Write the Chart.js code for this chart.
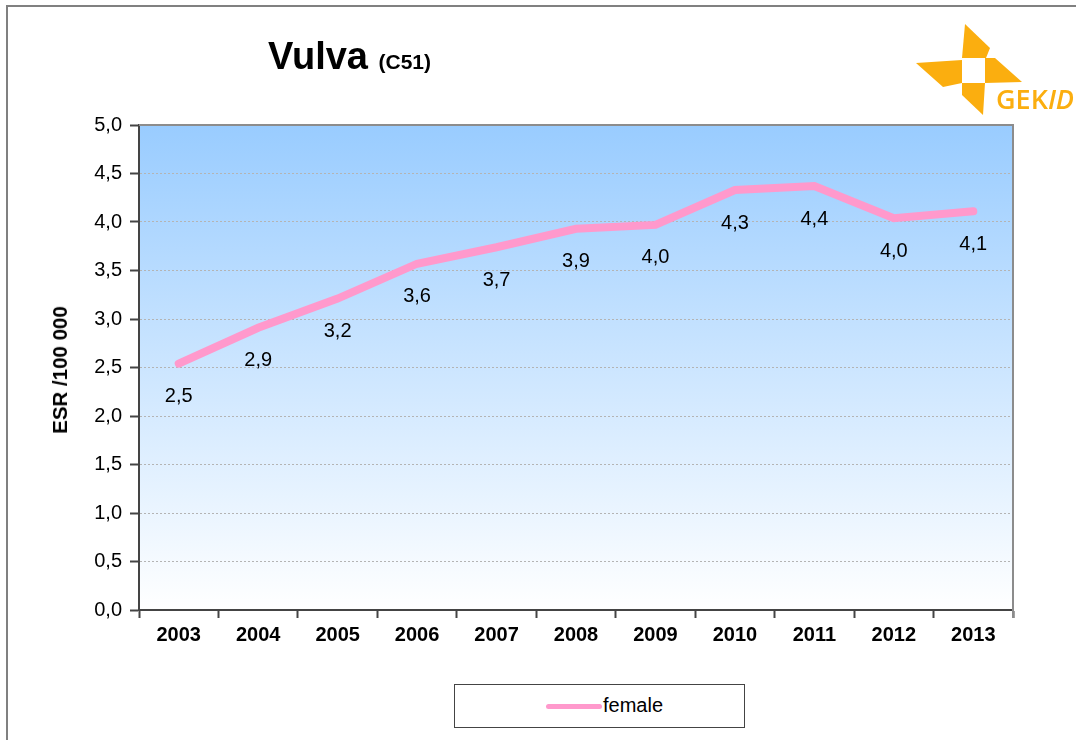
<!DOCTYPE html>
<html>
<head>
<meta charset="utf-8">
<script src="https://cdn.jsdelivr.net/npm/chart.js@4"></script>
<style>
  html, body { margin: 0; padding: 0; background: #fff; }
  body { width: 1076px; height: 740px; position: relative; overflow: hidden; font-family: "Liberation Sans", Arial, sans-serif; }
  #frame { position: absolute; left: 6px; top: 5px; width: 1080px; height: 760px; border-left: 2px solid #808080; border-top: 2px solid #808080; }
  #chart { position: absolute; left: 0; top: 0; }
  #title { position: absolute; left: 268px; top: 35px; font-weight: bold; font-size: 38px; color: #000; white-space: nowrap; }
  #title small { font-size: 21px; }
  #ytitle { position: absolute; left: 60px; top: 370px; transform: translate(-50%, -50%) rotate(-90deg); font-weight: bold; font-size: 20.5px; white-space: nowrap; }
  #legend { position: absolute; left: 454px; top: 684px; width: 289px; height: 42px; border: 1px solid #444; background: #fff; }
  #legend .swatch { position: absolute; left: 91px; top: 19px; width: 56px; height: 5px; border-radius: 3px; background: #ff99cc; }
  #legend .label { position: absolute; left: 148px; top: 9px; font-size: 20px; }
  #logo { position: absolute; left: 900px; top: 15px; }
</style>
</head>
<body>
<div id="frame"></div>
<canvas id="chart" width="1076" height="740"></canvas>
<div id="title">Vulva <small>(C51)</small></div>
<div id="ytitle">ESR /100 000</div>
<div id="legend"><div class="swatch"></div><div class="label">female</div></div>
<svg id="logo" width="176" height="110" viewBox="900 15 176 110">
  <g fill="#fbae0f">
    <polygon points="965,24 990,48 986,58 962,58"/>
    <polygon points="916,63 962,60 962,83 943,87"/>
    <polygon points="985,58 995,58 1022,82 985,83"/>
    <polygon points="962,83 985,83 983,115 962,95"/>
  </g>
  <text x="996" y="109" font-family="Open Sans, Liberation Sans, sans-serif" font-size="27" font-weight="600" fill="#fbae0f">GEK<tspan font-style="italic">ID</tspan></text>
</svg>
<script>
const years = ['2003', '2004', '2005', '2006', '2007', '2008', '2009', '2010', '2011', '2012', '2013'];
const femaleRates = [2.54, 2.91, 3.21, 3.57, 3.74, 3.93, 3.97, 4.33, 4.37, 4.04, 4.11];
const yTicks = [0, 0.5, 1, 1.5, 2, 2.5, 3, 3.5, 4, 4.5, 5];

// plot background: blue to white gradient + grey top/right frame
const plotBackground = {
    id: 'plotBackground',
    beforeDraw(chart) {
        const { ctx, chartArea: a } = chart;
        const g = ctx.createLinearGradient(0, a.top, 0, a.bottom);
        g.addColorStop(0, '#99ccff');
        g.addColorStop(1, '#ffffff');
        ctx.save();
        ctx.fillStyle = g;
        ctx.fillRect(a.left, a.top, a.right - a.left, a.bottom - a.top);
        ctx.restore();
    },
    afterDraw(chart) {
        const { ctx, chartArea: a } = chart;
        ctx.save();
        ctx.strokeStyle = '#8c8c8c';
        ctx.lineWidth = 2;
        ctx.beginPath();
        ctx.moveTo(a.left, a.top);
        ctx.lineTo(a.right, a.top);
        ctx.lineTo(a.right, a.bottom + 8);
        ctx.stroke();
        ctx.restore();
    }
};

// value labels below each point, with decimal comma
const valueLabels = {
    id: 'valueLabels',
    afterDatasetsDraw(chart) {
        const { ctx } = chart;
        const meta = chart.getDatasetMeta(0);
        ctx.save();
        ctx.font = '20px "Liberation Sans", Arial, sans-serif';
        ctx.fillStyle = '#000';
        ctx.textAlign = 'center';
        ctx.textBaseline = 'middle';
        meta.data.forEach((pt, i) => {
            ctx.fillText(femaleRates[i].toFixed(1).replace('.', ','), pt.x, pt.y + 33);
        });
        ctx.restore();
    }
};

new Chart(document.getElementById('chart'), {
    type: 'line',
    data: {
        labels: years,
        datasets: [{
            label: 'female',
            data: femaleRates,
            borderColor: '#ff99cc',
            borderWidth: 8,
            borderCapStyle: 'round',
            borderJoinStyle: 'miter',
            pointRadius: 0,
            tension: 0,
            clip: false
        }]
    },
    options: {
        responsive: false,
        animation: false,
        layout: { padding: { left: 0, top: 125, right: 63, bottom: 90 } },
        plugins: { legend: { display: false }, tooltip: { enabled: false } },
        scales: {
            x: {
                offset: true,
                grid: { drawOnChartArea: false, offset: true, tickLength: 8, tickColor: '#444', tickWidth: 2 },
                border: { color: '#444', width: 2 },
                ticks: { color: '#000', padding: 5, font: { family: '"Liberation Sans", Arial', size: 20, weight: 'bold' } },
                afterFit(scale) { scale.height = 40; }
            },
            y: {
                min: 0,
                max: 5,
                afterBuildTicks(scale) { scale.ticks = yTicks.map(v => ({ value: v })); },
                grid: { color: '#b4b4b4', tickColor: '#444', tickLength: 9, lineWidth: 1, tickWidth: 2 },
                border: { color: '#444', width: 2, dash: [2, 2] },
                ticks: {
                    color: '#000',
                    padding: 8,
                    font: { family: '"Liberation Sans", Arial', size: 20 },
                    callback: v => v.toFixed(1).replace('.', ',')
                },
                afterFit(scale) { scale.width = 139; }
            }
        }
    },
    plugins: [plotBackground, valueLabels]
});
</script>
</body>
</html>
